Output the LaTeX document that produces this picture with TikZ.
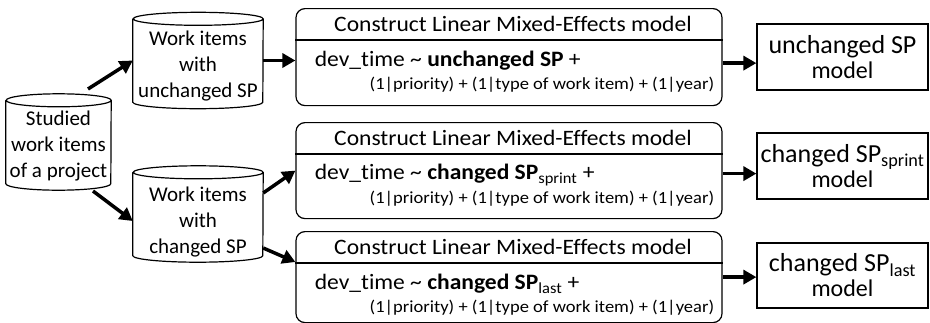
\documentclass[tikz,border=0pt]{standalone}
\usepackage{fontspec}
\setmainfont{Carlito}[Ligatures=NoCommon]
\usetikzlibrary{arrows.meta}
\begin{document}
\begin{tikzpicture}[x=1pt,y=-1pt,
    db/.style={inner sep=0pt, minimum height=96pt},
    dbtext/.style={align=center, inner sep=0pt, font=\fontsize{21}{26}\selectfont},
    lmebox/.style={draw, line width=1.2pt, rounded corners=9pt, minimum width=426pt},
    widetext/.style={transform shape, xscale=#1},
    outbox/.style={draw, line width=1.2pt, minimum width=171pt, align=center,
        font=\fontsize{24}{25}\selectfont},
    thickarrow/.style={-{Triangle[length=13pt,width=14pt]}, line width=3.5pt}]
\useasboundingbox (0,0) rectangle (930,322);

% Work item sets
\node[db, minimum width=105pt] (studied) at (58.5,142) {};
\node[dbtext] (studiedtxt) at (58.5,146) {Studied\\work items\\of a project};
\node[db, minimum width=130pt] (unchg) at (198,60.5) {};
\node[dbtext] (unchgtxt) at (198,66) {Work items\\with\\unchanged SP};
\node[db, minimum width=130pt] (chg) at (198,214) {};
\node[dbtext] (chgtxt) at (198,222) {Work items\\with\\changed SP};
\foreach \c/\r in {studied/52.5, unchg/65, chg/65}
    \draw[line width=1.2pt] ([yshift=-6.5pt]\c.north west) -- ([yshift=6.5pt]\c.south west)
        arc[start angle=180, end angle=360, x radius=\r pt, y radius=6.5pt]
        -- ([yshift=-6.5pt]\c.north east)
        arc[start angle=0, end angle=360, x radius=\r pt, y radius=6.5pt];

% LME models
\foreach \n/\yt/\hh/\term in {1/8/97/{\textbf{unchanged SP}},
        2/122/96/{\textbf{changed SP}\textsubscript{sprint}},
        3/231/91/{\textbf{changed SP}\textsubscript{last}}} {
    \node[lmebox, minimum height=\hh pt, anchor=north] (m\n) at (509,\yt) {};
    \node[widetext=1.07, font=\fontsize{22}{24}\selectfont] (t\n) at (513,\yt+16) {Construct Linear Mixed-Effects model};
    \draw[line width=1.2pt] (m\n.west |- 0,\yt+32) -- (m\n.east |- 0,\yt+32);
    \node[widetext=1.07, anchor=west, font=\fontsize{22}{24}\selectfont] (f\n) at (311,\yt+53) {dev\_time \textasciitilde{} \term{} +};
    \node[widetext=1.09, anchor=east, font=\fontsize{17}{18}\selectfont] (r\n) at (718,\yt+77) {(1|priority) + (1|type of work item) + (1|year)};
}

% Resulting models
\foreach \n/\yc/\hh/\name in {1/57/66/{unchanged SP},
        2/166/66/{changed SP\textsubscript{sprint}},
        3/275.5/65/{changed SP\textsubscript{last}}} {
    \node[outbox, minimum height=\hh pt] (o\n) at (842.5,\yc) {{\fontsize{26}{28}\selectfont \name}\\model};
}

% Arrows
\coordinate (s1) at (88,89);
\coordinate (s2) at (93,191);
\draw[thickarrow] (s1) -- (unchg.west);
\draw[thickarrow] (s2) -- ([yshift=-7pt]chg.west);
\draw[thickarrow] (unchg.east) -- (unchg.east -| m1.west);
\draw[thickarrow] ([yshift=21pt]chg.east) -- (m2.west);
\draw[thickarrow] ([yshift=-34pt]chg.east) -- ([yshift=-31pt]m3.north west);
\foreach \n/\dy in {1/-6,2/-3,3/0}
    \draw[thickarrow] ([yshift=\dy pt]m\n.east) -- ([yshift=\dy pt]m\n.east -| o\n.west);
\end{tikzpicture}
\end{document}
